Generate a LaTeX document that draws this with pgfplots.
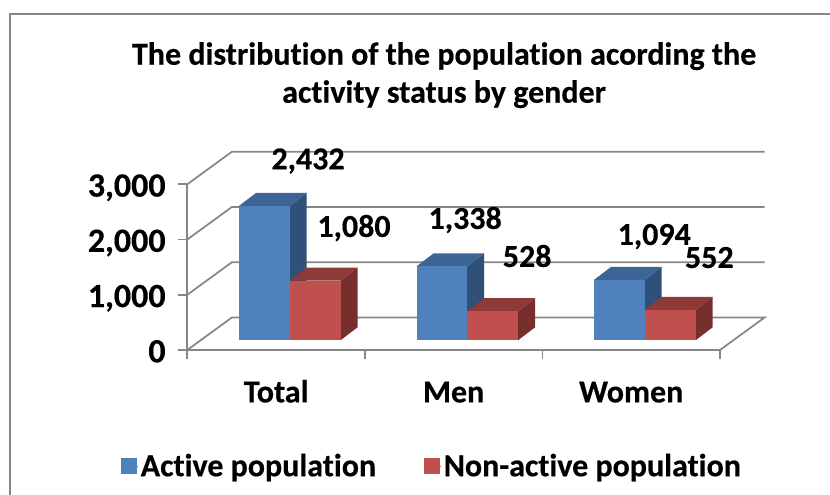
\documentclass[border=0pt]{standalone}
\usepackage{fontspec}
\usepackage{pgfplots}
\pgfplotsset{compat=1.18}
\setmainfont[Ligatures=CommonOff,BoldFeatures={FakeBold=0.4}]{Carlito}
\definecolor{frameg}{HTML}{868686}
\definecolor{blueF}{HTML}{4F81BD}
\definecolor{blueT}{HTML}{3C6494}
\definecolor{blueS}{HTML}{2F5079}
\definecolor{redF}{HTML}{C0504D}
\definecolor{redT}{HTML}{8E3A38}
\definecolor{redS}{HTML}{772F2D}

% one 3D bar: left edge, width, value, colour prefix
\newcommand{\threedbar}[4]{%
  \pgfmathsetmacro\xa{#1}%
  \pgfmathsetmacro\xb{#1+#2}%
  \pgfmathsetmacro\xc{#1+#2+0.0958}%
  \pgfmathsetmacro\xd{#1+0.0958}%
  \pgfmathsetmacro\ya{176}%
  \pgfmathsetmacro\yb{176+#3}%
  \pgfmathsetmacro\yc{176+235}%
  \pgfmathsetmacro\yd{176+#3+235}%
  \addplot[forget plot,draw=none,fill=#4S] coordinates {(\xb,\ya)(\xc,\yc)(\xc,\yd)(\xb,\yb)} --cycle;
  \addplot[forget plot,draw=none,fill=#4T] coordinates {(\xa,\yb)(\xd,\yd)(\xc,\yd)(\xb,\yb)} --cycle;
  \addplot[forget plot,draw=none,fill=#4F] coordinates {(\xa,\ya)(\xb,\ya)(\xb,\yb)(\xa,\yb)} --cycle;
}

\begin{document}
\begin{tikzpicture}[x=0.75pt,y=0.75pt]
  \path[use as bounding box] (-187.3,-145) rectangle (642.7,350);
  \draw[frameg,line width=1.5pt] (-177.6,-145) -- (-177.6,336) -- (642.7,336);
  \begin{axis}[
    at={(0,0)},anchor=south west,
    scale only axis,
    width=399.5pt,height=124.3pt,
    clip=false,
    font=\bfseries,
    xmin=-0.5,xmax=2.5,
    ymin=0,ymax=3000,
    axis x line=bottom,
    axis y line=left,
    axis line style={frameg,line width=1.3pt,-},
    tick align=outside,
    xtick={0,1,2},
    xticklabels={Total,Men,Women},
    minor xtick={-0.5,0.5,1.5,2.5},
    ytick={0,1000,2000,3000},
    major x tick style={draw=none},
    minor x tick style={frameg,line width=1.3pt},
    y tick style={frameg,line width=1.3pt},
    major tick length=6.75pt,
    minor tick length=6.75pt,
    /pgf/number format/assume math mode=true,
    /pgf/number format/1000 sep={,},
    yticklabel style={font=\fontsize{25.5}{25.5}\bfseries,xshift=-6pt,yshift=-1.5pt,text height=15.5pt,text depth=0pt,inner ysep=0pt},
    xticklabel style={font=\fontsize{24}{24}\bfseries,yshift=-13.5pt,text height=15.5pt,text depth=0pt},
    title={The distribution of the population acording the\\activity status by gender},
    title style={font=\fontsize{24}{28.5}\bfseries,align=center,at={(rel axis cs:0.482,1.61)},anchor=center},
    legend columns=2,
    legend style={draw=none,fill=none,at={(rel axis cs:0.4595,-0.70)},anchor=center,
      font=\fontsize{24}{24}\bfseries,
      /tikz/every even column/.append style={column sep=33.75pt}},
    legend image code/.code={\path (0,0) rectangle (12.7pt,0pt);\fill[#1] (0,-5.6pt) rectangle (11.2pt,5.6pt);},
  ]
    % walls and floor
    \addplot[forget plot,frameg,line width=1.3pt] coordinates {(-0.5,3000)(-0.2483,3590)(2.7517,3590)};
    \addplot[forget plot,frameg,line width=1.3pt] coordinates {(-0.5,2000)(-0.2483,2590)(2.7517,2590)};
    \addplot[forget plot,frameg,line width=1.3pt] coordinates {(-0.5,1000)(-0.2483,1590)(2.7517,1590)};
    \addplot[forget plot,frameg,line width=1.3pt] coordinates {(-0.5,0)(-0.2483,590)(2.7517,590)(2.5,0)};
    % bars
    \threedbar{-0.209}{0.285}{2432}{blue}
    \threedbar{0.076}{0.287}{1080}{red}
    \threedbar{0.791}{0.285}{1338}{blue}
    \threedbar{1.076}{0.287}{528}{red}
    \threedbar{1.791}{0.285}{1094}{blue}
    \threedbar{2.076}{0.287}{552}{red}
    % value labels
    \addplot[forget plot,draw=none,
      point meta=explicit symbolic,
      nodes near coords,
      every node near coord/.style={anchor=center,inner sep=0pt,text height=15pt,text depth=0pt,
        font=\fontsize{24}{24}\bfseries,text=black},
    ] table[meta=lab,row sep=\\] {
      x y lab\\
      0.180 3451 {2,432}\\
      0.439 2228 {1,080}\\
      1.065 2373 {1,338}\\
      1.414 1685 {528}\\
      2.130 2083 {1,094}\\
      2.440 1667 {552}\\
    };
    \addlegendimage{blueF}
    \addlegendentry{Active population}
    \addlegendimage{redF}
    \addlegendentry{Non-active population}
  \end{axis}
\end{tikzpicture}
\end{document}
